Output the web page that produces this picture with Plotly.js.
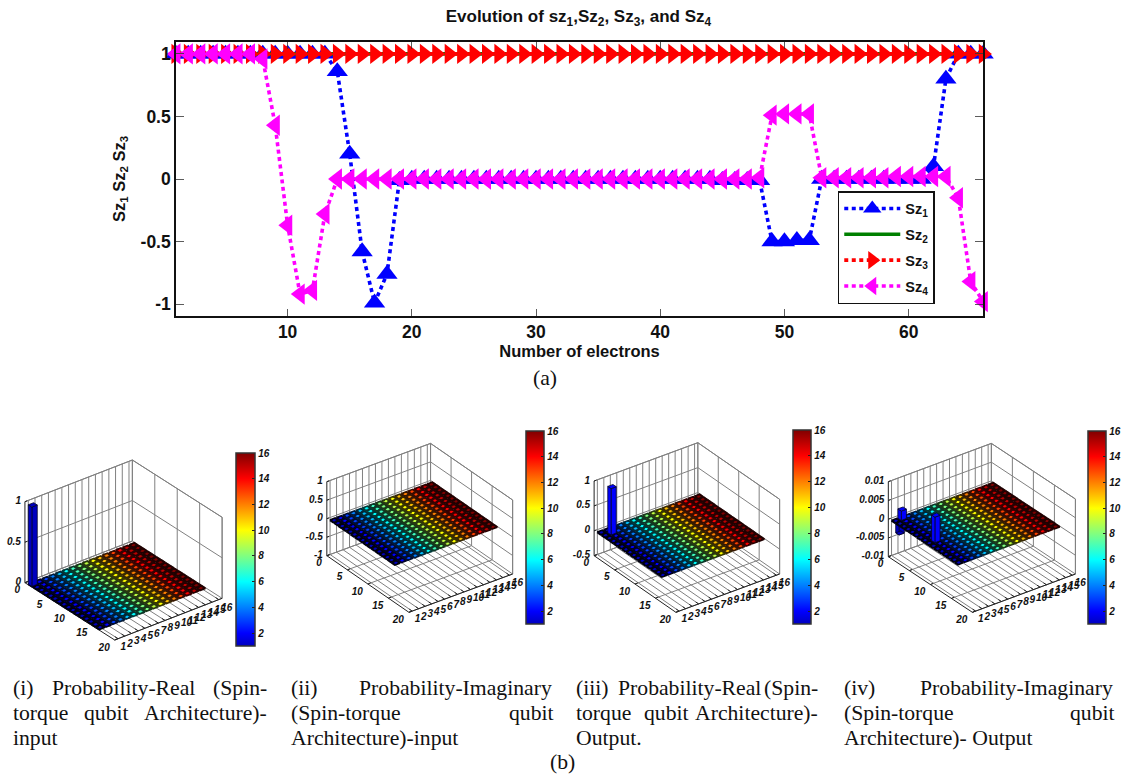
<!DOCTYPE html>
<html><head><meta charset="utf-8">
<script src="https://cdn.plot.ly/plotly-3.0.1.min.js"></script>
<style>html,body{margin:0;padding:0;background:#fff}#chart{width:1125px;height:777px}</style>
</head><body><div id="chart"></div>
<script>
// ---------- panel (a) data ----------
const electrons = [1,2,3,4,5,6,7,8,9,10,11,12,13,14,15,16,17,18,19,20,21,22,23,24,25,26,27,28,29,30,31,32,33,34,35,36,37,38,39,40,41,42,43,44,45,46,47,48,49,50,51,52,53,54,55,56,57,58,59,60,61,62,63,64,65,66];
const sz1 = [1,1,1,1,1,1,1,1,1,1,1,1,1,0.86,0.2,-0.58,-0.99,-0.76,-0.01,0,0,0,0,0,0,0,0,0,0,0,0,0,0,0,0,0,0,0,0,0,0,0,0,0,-0.01,-0.01,-0.01,-0.01,-0.5,-0.5,-0.49,-0.49,0,0,0,0,0,0,0,0,0,0.1,0.8,1,1,1];
const sz2 = [1,1,1,1,1,1,1,1,1,1,1,1,1,1,1,1,1,1,1,1,1,1,1,1,1,1,1,1,1,1,1,1,1,1,1,1,1,1,1,1,1,1,1,1,1,1,1,1,1,1,1,1,1,1,1,1,1,1,1,1,1,1,1,1,1,1];
const sz3 = [1,1,1,1,1,1,1,1,1,1,1,1,1,1,1,1,1,1,1,1,1,1,1,1,1,1,1,1,1,1,1,1,1,1,1,1,1,1,1,1,1,1,1,1,1,1,1,1,1,1,1,1,1,1,1,1,1,1,1,1,1,1,1,1,1,1];
const sz4 = [1,1,1,1,1,1,1,0.96,0.43,-0.37,-0.92,-0.89,-0.28,0,0,0,0,0,0,0,0,0,0,0,0,0,0,0,0,0,0,0,0,0,0,0,0,0,0,0,0,0,0,0,0,0,0,0.01,0.51,0.52,0.52,0.52,0.01,0.01,0.01,0.01,0.01,0.01,0.02,0.02,0.02,0.02,0.02,-0.15,-0.82,-0.98];
const seriesNames = ['Sz<sub>1</sub>','Sz<sub>2</sub>','Sz<sub>3</sub>','Sz<sub>4</sub>'];

// ---------- panel (b) data: non-zero bars of each 16x16 amplitude matrix ----------
const realInCols = [1],    realInRows = [1],    realInVals = [0.98];
const imagInCols = [],     imagInRows = [],     imagInVals = [];
const realOutCols = [2],   realOutRows = [2],   realOutVals = [0.93];
const imagOutCols = [2,1,2], imagOutRows = [1,2,9], imagOutVals = [0.0025,-0.0025,0.0068];
const columnIndex = [1,2,3,4,5,6,7,8,9,10,11,12,13,14,15,16];
const rowIndex = [1,2,3,4,5,6,7,8,9,10,11,12,13,14,15,16];
const rowTicks = [0,5,10,15,20];
const jetColors = ['#0000bf','#0000ff','#0040ff','#0080ff','#00bfff','#00ffff','#40ffbf','#80ff80','#bfff40','#ffff00','#ffbf00','#ff8000','#ff4000','#ff0000','#bf0000','#800000'];
const jetDark = ['#00000f','#000020','#000c30','#001838','#002838','#003838','#0c3828','#183818','#283810','#383800','#382800','#381800','#380c00','#380000','#280000','#200000'];
const colorbarTicks = [2,4,6,8,10,12,14,16];

const W = 1125, H = 777;
const SANS = '"Liberation Sans", Arial, sans-serif', SERIF = '"Liberation Serif", "Times New Roman", serif';
const AXC = '#111';
const jetScale = jetColors.map((c,i)=>[i/15,c]);
const bi = s => '<b><i>'+s+'</i></b>';

const panels = [
 {cols:realInCols, rows:realInRows, vals:realInVals, zTicks:[0,0.5,1], zLabels:['0','0.5','1'], zMin:0, zMax:1,
  L:[25,582.7], F:[115,640], R:[222.7,598.3], zSpan:81, box:[0,430,280,660], bar:[237,453,19,193]},
 {cols:imagInCols, rows:imagInRows, vals:imagInVals, zTicks:[-1,-0.5,0,0.5,1], zLabels:['-1','-0.5','0','0.5','1'], zMin:-1, zMax:1,
  L:[327.7,555.7], F:[410,612.3], R:[514,574], zSpan:74, box:[285,420,560,650], bar:[527,431,18,193]},
 {cols:realOutCols, rows:realOutRows, vals:realOutVals, zTicks:[-0.5,0,0.5,1], zLabels:['-0.5','0','0.5','1'], zMin:-0.5, zMax:1,
  L:[595.7,555.7], F:[677.7,612.3], R:[781.7,574], zSpan:74.7, box:[570,420,830,650], bar:[795,430,18,194]},
 {cols:imagOutCols, rows:imagOutRows, vals:imagOutVals, zTicks:[-0.01,-0.005,0,0.005,0.01], zLabels:['-0.01','-0.005','0','0.005','0.01'], zMin:-0.01, zMax:0.01,
  L:[890.7,556.7], F:[975,612.3], R:[1078.3,574], zSpan:75, box:[840,420,1125,650], bar:[1091,431,18,193]}
];

const traces = [];
// ---------- main chart ----------
const mainStyle = [
 {y:sz1,color:'#0000ff',symbol:'triangle-up',size:18.5,dash:'4px,3.5px'},
 {y:sz2,color:'#008000',symbol:'circle',size:0,dash:'solid'},
 {y:sz3,color:'#ff0000',symbol:'triangle-right',size:17.5,dash:'4px,3.5px'},
 {y:sz4,color:'#ff00ff',symbol:'triangle-left',size:18.5,dash:'4px,3.5px'}
];
mainStyle.forEach((s,i)=>traces.push({
  type:'scatter', mode:s.size?'lines+markers':'lines', x:electrons, y:s.y, name:seriesNames[i], legendgroup:'g'+i,
  xaxis:'x', yaxis:'y', cliponaxis:false,
  line:{color:s.color,width:3.6,dash:s.dash},
  marker:{color:s.color,symbol:s.symbol,size:s.size,line:{width:0}}
}));

// ---------- 3-D bar panels, orthographic projection onto 2-D axes ----------
function seg(list,a,b){list.x.push(a[0],b[0],null);list.y.push(a[1],b[1],null);}
panels.forEach((p,k)=>{
  const n = k+2, xa='x'+n, ya='y'+n;
  const proj=(x,y,z)=>{
    const u=y/20, v=(x-0.5)/16, w=(z-p.zMin)/(p.zMax-p.zMin);
    return [p.L[0]+u*(p.F[0]-p.L[0])+v*(p.R[0]-p.F[0]),
            p.L[1]+u*(p.F[1]-p.L[1])+v*(p.R[1]-p.F[1])-w*p.zSpan];
  };
  const add=(o)=>traces.push(Object.assign({type:'scatter',xaxis:xa,yaxis:ya,showlegend:false,hoverinfo:'skip',cliponaxis:false},o));
  const zLo=p.zMin, zHi=p.zMax, xLo=0.5, xHi=16.5;
  // grey grid + box
  const grid={x:[],y:[]};
  p.zTicks.forEach(z=>{seg(grid,proj(xLo,0,z),proj(xHi,0,z));seg(grid,proj(xHi,0,z),proj(xHi,20,z));});
  columnIndex.forEach(c=>{seg(grid,proj(c,0,zLo),proj(c,0,zHi));seg(grid,proj(c,0,zLo),proj(c,20,zLo));});
  rowTicks.forEach(r=>{seg(grid,proj(xHi,r,zLo),proj(xHi,r,zHi));seg(grid,proj(xLo,r,zLo),proj(xHi,r,zLo));});
  seg(grid,proj(xLo,0,zHi),proj(xHi,0,zHi));seg(grid,proj(xHi,0,zHi),proj(xHi,20,zHi));
  seg(grid,proj(xHi,0,zLo),proj(xHi,0,zHi));seg(grid,proj(xHi,20,zLo),proj(xHi,20,zHi));
  add({mode:'lines',x:grid.x,y:grid.y,line:{color:'#808080',width:1}});
  // dark axis lines and ticks
  const ax={x:[],y:[]};
  seg(ax,proj(xLo,0,zLo),proj(xLo,0,zHi));
  seg(ax,proj(xLo,0,zLo),proj(xLo,20,zLo));
  seg(ax,proj(xLo,20,zLo),proj(xHi,20,zLo));
  columnIndex.forEach(c=>seg(ax,proj(c,20,zLo),proj(c,19.3,zLo)));
  rowTicks.forEach(r=>seg(ax,proj(xLo,r,zLo),proj(xLo+0.45,r,zLo)));
  p.zTicks.forEach(z=>seg(ax,proj(xLo,0,z),proj(xLo+0.35,0,z)));
  add({mode:'lines',x:ax.x,y:ax.y,line:{color:'#222',width:1}});

  // bars
  const drawBar=(c,r,v)=>{
    const d=0.4, col=jetColors[c-1];
    const a=[c-d,r-d],b=[c+d,r-d],e=[c+d,r+d],f=[c-d,r+d];
    const poly=(pts)=>({x:pts.map(q=>q[0]),y:pts.map(q=>q[1])});
    const faces=[[f,e],[a,f]];
    faces.forEach(fc=>{
      const q=poly([proj(fc[0][0],fc[0][1],0),proj(fc[1][0],fc[1][1],0),proj(fc[1][0],fc[1][1],v),proj(fc[0][0],fc[0][1],v),proj(fc[0][0],fc[0][1],0)]);
      add({mode:'lines',x:q.x,y:q.y,fill:'toself',fillcolor:col,line:{color:'#05052a',width:0.8}});
    });
    const t=poly([proj(a[0],a[1],v),proj(b[0],b[1],v),proj(e[0],e[1],v),proj(f[0],f[1],v),proj(a[0],a[1],v)]);
    add({mode:'lines',x:t.x,y:t.y,fill:'toself',fillcolor:col,line:{color:'#05052a',width:0.8}});
  };
  const spikes=p.vals.map((v,i)=>({c:p.cols[i],r:p.rows[i],v:v}));
  spikes.filter(s=>s.v<0).forEach(s=>drawBar(s.c,s.r,s.v));
  // flat bar tops, one trace per colour column
  columnIndex.forEach(c=>{
    const xs=[],ys=[];
    rowIndex.forEach(r=>{
      [[c-.4,r-.4],[c+.4,r-.4],[c+.4,r+.4],[c-.4,r+.4],[c-.4,r-.4]].forEach(q=>{const w=proj(q[0],q[1],0);xs.push(w[0]);ys.push(w[1]);});
      xs.push(null);ys.push(null);
    });
    add({mode:'lines',x:xs,y:ys,fill:'toself',fillcolor:jetColors[c-1],line:{color:jetDark[c-1],width:2}});
  });
  // colour bar carrier: bright centres of each bar top
  const cx=[],cy=[],cc=[];
  rowIndex.forEach(r=>columnIndex.forEach(c=>{
    const w=proj(c,r,0);cx.push(w[0]);cy.push(w[1]);cc.push(c);
  }));
  add({mode:'markers',x:cx,y:cy,marker:{size:2,symbol:'square',color:cc,cmin:1,cmax:16,colorscale:jetScale,line:{width:0},
    colorbar:{x:p.bar[0]/W,xanchor:'left',xpad:0,thicknessmode:'pixels',thickness:p.bar[2],
      y:1-p.bar[1]/H,yanchor:'top',ypad:0,lenmode:'pixels',len:p.bar[3],
      tickmode:'array',tickvals:colorbarTicks,ticktext:colorbarTicks.map(v=>bi(v)),ticks:'inside',ticklen:3,tickwidth:1,tickcolor:'#222',
      outlinecolor:'#333',outlinewidth:1.5,borderwidth:0,
      tickfont:{family:SANS,size:10,color:'#111'}}}});
  spikes.filter(s=>s.v>0).sort((a,b)=>a.r-b.r).forEach(s=>drawBar(s.c,s.r,s.v));
  // tick labels
  const lblFont={family:SANS,size:10,color:'#111'};
  const pz=p.zTicks.map(z=>proj(xLo,0,z));
  add({mode:'text',x:pz.map(q=>q[0]-4),y:pz.map(q=>q[1]),text:p.zLabels.map(bi),textposition:'middle left',textfont:lblFont});
  const py=rowTicks.map(r=>proj(xLo,r,zLo));
  add({mode:'text',x:py.map(q=>q[0]-5),y:py.map(q=>q[1]+8),text:rowTicks.map(bi),textposition:'middle left',textfont:lblFont});
  const px=columnIndex.map(c=>proj(c,20,zLo));
  add({mode:'text',x:px.map(q=>q[0]+2.5),y:px.map(q=>q[1]+8.5),text:columnIndex.map(bi),textposition:'middle right',textfont:lblFont});
});

// ---------- layout ----------
const layout = {
  width:W,height:H,margin:{l:0,r:0,t:0,b:0},paper_bgcolor:'#fff',plot_bgcolor:'rgba(0,0,0,0)',
  font:{family:SANS,color:'#111'},
  hovermode:false,
  title:{text:'Evolution of sz<sub>1</sub>,Sz<sub>2</sub>, Sz<sub>3</sub>, and Sz<sub>4</sub>',
    x:580/W,xref:'paper',xanchor:'center',y:1-16/H,yref:'paper',yanchor:'middle',pad:{t:0,b:0,l:0,r:0},
    font:{family:SANS,size:17,color:'#111',weight:'bold'}},
  xaxis:{domain:[176.3/W,985.8/W],range:[1,66],anchor:'y',tickmode:'array',tickvals:[10,20,30,40,50,60],showgrid:false,zeroline:false,
    showline:true,mirror:'ticks',linecolor:AXC,linewidth:1.6,ticks:'inside',ticklen:7,tickwidth:0.8,tickcolor:'#333',ticklabelstandoff:-1,
    tickfont:{family:SANS,size:17.5,color:'#111',weight:'bold'},
    title:{text:'Number of electrons',standoff:3,font:{family:SANS,size:16.5,color:'#111',weight:'bold'}}},
  yaxis:{domain:[1-316/H,1-42/H],range:[-1.095,1.095],anchor:'x',tickmode:'array',tickvals:[-1,-0.5,0,0.5,1],ticktext:['-1','-0.5','0','0.5','1'],showgrid:false,zeroline:false,
    showline:true,mirror:'ticks',linecolor:AXC,linewidth:1.6,ticks:'inside',ticklen:8,tickwidth:0.8,tickcolor:'#333',ticklabelstandoff:0,
    tickfont:{family:SANS,size:17.5,color:'#111',weight:'bold'},
    title:{text:'Sz<sub>1</sub> Sz<sub>2</sub> Sz<sub>3</sub>',standoff:11,font:{family:SANS,size:16.5,color:'#111',weight:'bold'}}},
  legend:{x:840/W,xanchor:'left',y:1-191/H,yanchor:'top',bgcolor:'#fff',bordercolor:'#111',borderwidth:1.5,
    itemwidth:56,tracegroupgap:4,entrywidthmode:'pixels',entrywidth:54,font:{family:SANS,size:14.5,color:'#111',weight:'bold'}},
  annotations:[],
  showlegend:true
};
panels.forEach((p,k)=>{
  const n=k+2;
  layout['xaxis'+n]={domain:[p.box[0]/W,p.box[2]/W],range:[p.box[0],p.box[2]],anchor:'y'+n,visible:false,fixedrange:true};
  layout['yaxis'+n]={domain:[1-p.box[3]/H,1-p.box[1]/H],range:[p.box[3],p.box[1]],anchor:'x'+n,visible:false,fixedrange:true};
});
const capWords = [
 ['(a)',533,378],['(b)',550,762],
 ['(i)',12.5,688],['Probability-Real',51,688],['(Spin-',213,688],
 ['torque',12.5,713],['qubit',83,713],['Architecture)-',143.6,713],['input',12.5,738],
 ['(ii)',291,688],['Probability-Imaginary',359,688],
 ['(Spin-torque',291,713],['qubit',509,713],['Architecture)-input',291,738],
 ['(iii)',577,688],['Probability-Real',619,688],['(Spin-',765,688],
 ['torque',577,713],['qubit',645,713],['Architecture)-',696,713],['Output.',577,738],
 ['(iv)',845,688],['Probability-Imaginary',921.5,688],
 ['(Spin-torque',845,713],['qubit',1072,713],['Architecture)- Output',845,738]
];
capWords.forEach(c=>layout.annotations.push({text:c[0],x:c[1]/W,y:1-c[2]/H,xref:'paper',yref:'paper',xanchor:'left',yanchor:'middle',showarrow:false,
  font:{family:SERIF,size:21.7,color:'#111'},borderpad:0,xshift:0}));

Plotly.newPlot('chart',traces,layout,{displayModeBar:false,staticPlot:true});
</script></body></html>
